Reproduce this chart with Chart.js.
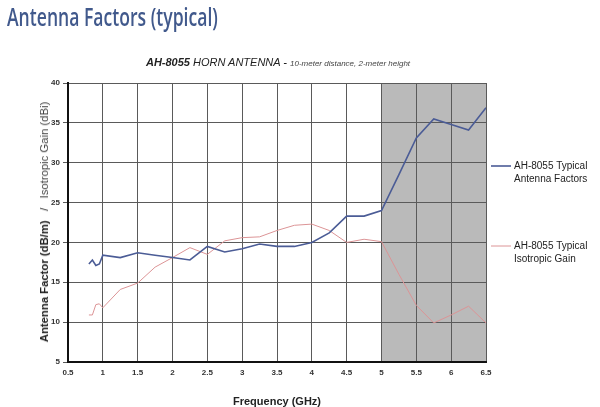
<!DOCTYPE html>
<html lang="en">
<head>
<meta charset="UTF-8">
<title>Antenna Factors (typical)</title>
<script src="https://cdn.jsdelivr.net/npm/chart.js"></script>
<style>
  body { margin: 0; background: #fff; }
  #wrap { position: relative; width: 600px; height: 407px; overflow: hidden; }
  #pageTitle {
    position: absolute; left: 7px; top: -1px; transform-origin: 0 0;
    font-family: "Open Sans", "Liberation Sans", sans-serif; font-weight: 600;
    font-size: 25px; color: #41598c; white-space: nowrap;
  }
  #subTitle {
    position: absolute; left: 0; width: 556px; top: 56px; text-align: center;
    font-family: "Liberation Sans", Arial, sans-serif; font-style: italic;
    font-size: 11px; color: #222; white-space: nowrap;
  }
  #subTitle b { font-weight: bold; }
  #subTitle small { font-size: 8px; color: #444; }
  #yTitle {
    position: absolute; left: 44px; top: 222px; white-space: nowrap;
    transform: translate(-50%, -50%) rotate(-90deg);
    font-family: "Liberation Sans", Arial, sans-serif; font-size: 11.3px; color: #222;
  }
  #yTitle span { color: #444; }
  canvas { position: absolute; left: 0; top: 0; }
</style>
</head>
<body>
<div id="wrap">
  <canvas id="chart" width="600" height="407"></canvas>
  <div id="pageTitle">Antenna Factors (typical)</div>
  <div id="subTitle"><b>AH-8055</b> HORN ANTENNA - <small>10-meter distance, 2-meter height</small></div>
  <div id="yTitle"><b>Antenna Factor (dB/m)</b> &nbsp;&nbsp;/&nbsp;&nbsp; <span>Isotropic Gain (dBi)</span></div>
</div>
<script>
// frequency points (GHz)
const freqs = [0.8, 0.85, 0.9, 0.95, 1, 1.25, 1.5, 1.75, 2, 2.25, 2.5, 2.75, 3, 3.25, 3.5,
               3.75, 4, 4.25, 4.5, 4.75, 5, 5.25, 5.5, 5.75, 6, 6.25, 6.5];
// AH-8055 typical antenna factors (dB/m)
const antennaFactor = [17.3, 17.8, 17.1, 17.3, 18.4, 18.1, 18.7, 18.4, 18.1, 17.8, 19.5, 18.8, 19.2, 19.8, 19.5,
                       19.5, 20.0, 21.2, 23.3, 23.3, 24.0, 28.5, 33.1, 35.5, 34.8, 34.1, 36.9];
// AH-8055 typical isotropic gain (dBi)
const isoGain = [10.9, 10.9, 12.2, 12.3, 11.8, 14.1, 14.9, 16.9, 18.1, 19.35, 18.5, 20.2, 20.6, 20.7, 21.5,
                 22.15, 22.3, 21.5, 20.0, 20.4, 20.1, 16.0, 12.1, 9.9, 10.9, 12.0, 9.9];
const seriesNames = [['AH-8055 Typical', 'Antenna Factors'], ['AH-8055 Typical', 'Isotropic Gain']];
const shadedRange = [5, 6.5];

// squeeze the page title to the condensed width of the original
const titleEl = document.getElementById('pageTitle');
titleEl.style.transform = 'scaleX(' + (211 / titleEl.offsetWidth) + ')';

const toPoints = vals => vals.map((v, i) => ({ x: freqs[i], y: v }));

// grey band behind the grid for the upper frequency range
const shadePlugin = {
  id: 'shade',
  beforeDraw(chart) {
    const { ctx, chartArea, scales } = chart;
    const x1 = scales.x.getPixelForValue(shadedRange[0]);
    const x2 = scales.x.getPixelForValue(shadedRange[1]);
    ctx.save();
    ctx.fillStyle = '#bababa';
    ctx.fillRect(x1, chartArea.top, x2 - x1, chartArea.bottom - chartArea.top);
    ctx.restore();
  }
};

// two-line legend on the right side
const sideLegend = {
  id: 'sideLegend',
  afterDraw(chart) {
    const ctx = chart.ctx;
    const rows = [166, 246];
    ctx.save();
    chart.data.datasets.forEach((ds, i) => {
      const y = rows[i];
      ctx.strokeStyle = ds.borderColor;
      ctx.lineWidth = ds.borderWidth;
      ctx.beginPath();
      ctx.moveTo(491, y);
      ctx.lineTo(511, y);
      ctx.stroke();
      ctx.fillStyle = '#222';
      ctx.font = '10px "Liberation Sans", Arial, sans-serif';
      ctx.textBaseline = 'middle';
      seriesNames[i].forEach((line, j) => ctx.fillText(line, 514, y + j * 13));
    });
    ctx.restore();
  }
};

const tickFont = { family: '"Liberation Sans", Arial, sans-serif', size: 8, weight: 'bold' };

new Chart(document.getElementById('chart'), {
  type: 'scatter',
  data: {
    datasets: [
      {
        label: seriesNames[0].join(' '),
        data: toPoints(antennaFactor),
        showLine: true,
        borderColor: '#4b5c96',
        borderWidth: 1.6,
        pointRadius: 0,
        tension: 0
      },
      {
        label: seriesNames[1].join(' '),
        data: toPoints(isoGain),
        showLine: true,
        borderColor: '#dc9496',
        borderWidth: 1,
        pointRadius: 0,
        tension: 0
      }
    ]
  },
  options: {
    responsive: false,
    animation: false,
    layout: { padding: { top: 83, right: 114, left: 0, bottom: 0 } },
    plugins: { legend: { display: false }, tooltip: { enabled: false } },
    scales: {
      x: {
        type: 'linear',
        min: 0.5, max: 6.5,
        afterFit(s) { s.height = 45; },
        ticks: {
          stepSize: 0.5,
          color: '#333',
          padding: 6,
          font: tickFont,
          callback: v => String(v)
        },
        grid: { color: '#5a5a5a', lineWidth: 1, tickLength: 0 },
        border: { color: '#111', width: 2 },
        title: {
          display: true,
          text: 'Frequency (GHz)',
          color: '#222',
          padding: { top: 19, bottom: -2 },
          font: { family: '"Liberation Sans", Arial, sans-serif', size: 11, weight: 'bold' }
        }
      },
      y: {
        min: 5, max: 40,
        afterFit(s) { s.width = 68; },
        ticks: {
          stepSize: 5,
          color: '#333',
          padding: 3,
          font: tickFont
        },
        grid: { color: '#5a5a5a', lineWidth: 1, tickLength: 5 },
        border: { color: '#111', width: 2 }
      }
    }
  },
  plugins: [shadePlugin, sideLegend]
});
</script>
</body>
</html>
